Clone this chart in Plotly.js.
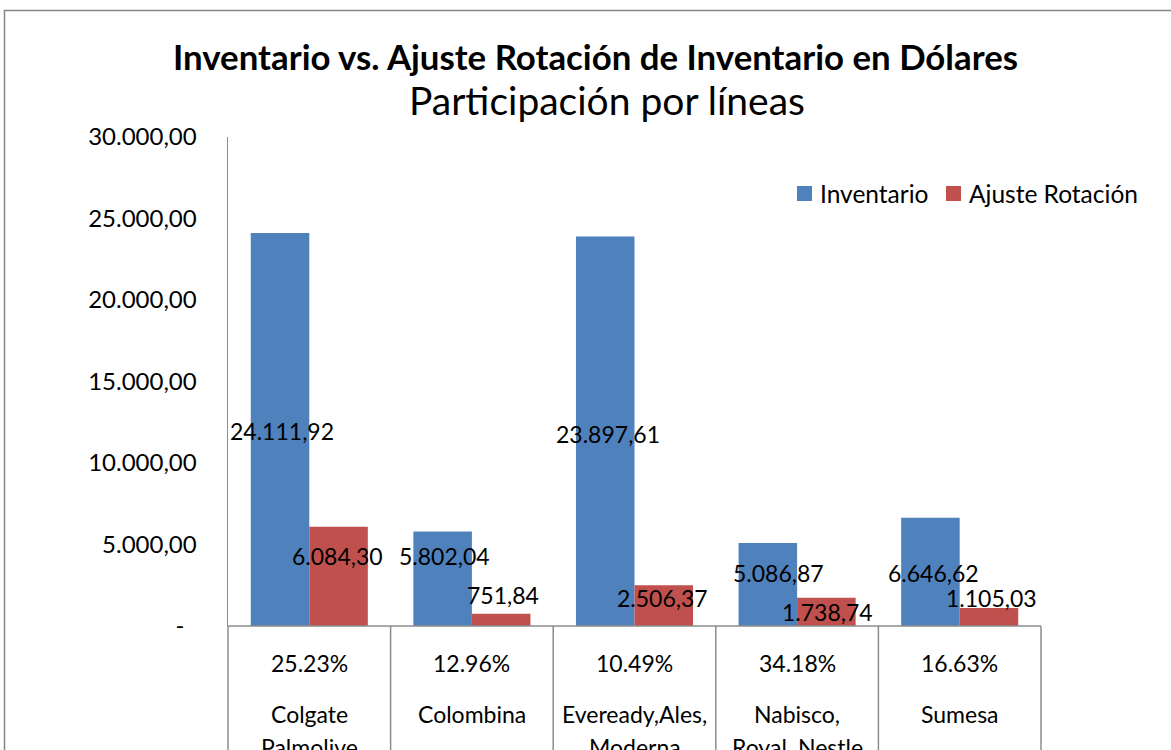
<!DOCTYPE html>
<html>
<head>
<meta charset="utf-8">
<script src="https://cdn.plot.ly/plotly-3.0.1.min.js"></script>
<style>html,body{margin:0;padding:0;background:#fff;overflow:hidden}#chart{width:1171px;height:750px}</style>
</head>
<body>
<div id="chart"></div>
<script>
// ---- data ----
var categories = ["Colgate Palmolive", "Colombina", "Eveready,Ales, Moderna", "Nabisco, Royal, Nestle", "Sumesa"];
var nameLine1 = ["Colgate", "Colombina", "Eveready,Ales,", "Nabisco,", "Sumesa"];
var nameLine2 = ["Palmolive", "", "Moderna", "Royal, Nestle", ""];
var inventario = [24111.92, 5802.04, 23897.61, 5086.87, 6646.62];
var ajuste = [6084.30, 751.84, 2506.37, 1738.74, 1105.03];
var participacion = ["25.23%", "12.96%", "10.49%", "34.18%", "16.63%"];
var yTicks = [0, 5000, 10000, 15000, 20000, 25000, 30000];

// ---- layout helpers ----
var W = 1171, H = 750;
var L = 228, R = 1041, T = 137, B = 626;
function px(x) { return (x - L) / (R - L); }
function py(y) { return (B - y) / (B - T); }
function fmt(v) {
  var s = v.toFixed(2).split(".");
  return s[0].replace(/\B(?=(\d{3})+(?!\d))/g, ".") + "," + s[1];
}
var FONT = "Lato, 'Open Sans', sans-serif";
var BLUE = "#4F81BD", RED = "#C0504D", LINE = "#8c8c8c";

// label nudges (pixels) to mimic the hand-placed labels in the original
var blueShiftY = [-2, 23, -3, 12, -1];
var blueShiftX = [2, 2, 2, 10, 3];
var redShiftY = [20, 25, 8, 0, 19];
var redShiftX = [-1, 2, -1, 1, 3];
var barOff = 29;

var traces = [
  {type: "bar", name: "Inventario", x: categories, y: inventario, marker: {color: BLUE}, hoverinfo: "none"},
  {type: "bar", name: "Ajuste Rotación", x: categories, y: ajuste, marker: {color: RED}, hoverinfo: "none"}
];

var annotations = [];
var shapes = [];
var labelFont = {family: FONT, size: 23, color: "#000"};

categories.forEach(function (c, i) {
  annotations.push({x: c, y: inventario[i] / 2, xref: "x", yref: "y", text: fmt(inventario[i]),
    showarrow: false, font: labelFont, xshift: -barOff + blueShiftX[i], yshift: blueShiftY[i]});
  annotations.push({x: c, y: ajuste[i] / 2, xref: "x", yref: "y", text: fmt(ajuste[i]),
    showarrow: false, font: labelFont, xshift: barOff + redShiftX[i], yshift: redShiftY[i]});
  annotations.push({x: c, y: py(663), xref: "x", yref: "paper", text: participacion[i],
    showarrow: false, font: labelFont, yanchor: "middle"});
  annotations.push({x: c, y: py(714), xref: "x", yref: "paper", text: nameLine1[i],
    showarrow: false, font: labelFont, yanchor: "middle"});
  if (nameLine2[i]) {
    annotations.push({x: c, y: py(747), xref: "x", yref: "paper", text: nameLine2[i],
      showarrow: false, font: labelFont, yanchor: "middle"});
  }
});

// titles
annotations.push({x: px(595), y: py(57), xref: "paper", yref: "paper", showarrow: false, yanchor: "middle",
  text: "<b>Inventario vs. Ajuste Rotación de Inventario en Dólares</b>", font: {family: FONT, size: 34.8, color: "#000"}});
annotations.push({x: px(607), y: py(100), xref: "paper", yref: "paper", showarrow: false, yanchor: "middle",
  text: "Participación por líneas", font: {family: FONT, size: 39, color: "#000"}});

// legend (manual)
shapes.push({type: "rect", xref: "paper", yref: "paper", x0: px(797), x1: px(812), y0: py(201), y1: py(186), fillcolor: BLUE, line: {width: 0}});
shapes.push({type: "rect", xref: "paper", yref: "paper", x0: px(946), x1: px(961), y0: py(201), y1: py(186), fillcolor: RED, line: {width: 0}});
annotations.push({x: px(818), y: py(193), xref: "paper", yref: "paper", xanchor: "left", yanchor: "middle", showarrow: false,
  text: "Inventario", font: {family: FONT, size: 24.5, color: "#000"}});
annotations.push({x: px(967), y: py(193), xref: "paper", yref: "paper", xanchor: "left", yanchor: "middle", showarrow: false,
  text: "Ajuste Rotación", font: {family: FONT, size: 24.5, color: "#000"}});

// category table lines
var lineStyle = {color: LINE, width: 1.5};
shapes.push({type: "line", xref: "paper", yref: "paper", x0: 0, x1: 1, y0: 0, y1: 0, line: lineStyle});
for (var k = 0; k <= categories.length; k++) {
  var xx = k / categories.length;
  shapes.push({type: "line", xref: "paper", yref: "paper", x0: xx, x1: xx, y0: 0, y1: py(760), line: lineStyle});
}
// outer chart border
shapes.push({type: "rect", xref: "paper", yref: "paper", x0: px(4.5), x1: px(1190), y0: py(780), y1: py(10.5),
  line: {color: "#868686", width: 1.5}, fillcolor: "rgba(0,0,0,0)"});

var layout = {
  width: W, height: H,
  margin: {l: L, r: W - R, t: T, b: H - B, pad: 0},
  paper_bgcolor: "#fff", plot_bgcolor: "#fff",
  showlegend: false,
  barmode: "group", bargap: 0.28, bargroupgap: 0,
  font: {family: FONT, color: "#000"},
  xaxis: {type: "category", range: [-0.5, 4.5], showticklabels: false, showgrid: false, zeroline: false, showline: false, ticks: "", fixedrange: true},
  yaxis: {range: [0, 30000], tickvals: yTicks,
    ticktext: yTicks.map(function (v) { return v === 0 ? "-\u00a0\u00a0" : fmt(v); }),
    showgrid: false, zeroline: false, showline: true, linecolor: LINE, linewidth: 1.5,
    ticks: "outside", ticklen: 25, tickcolor: "rgba(0,0,0,0)", tickfont: {family: FONT, size: 24, color: "#000"}, fixedrange: true},
  annotations: annotations,
  shapes: shapes
};

Plotly.newPlot("chart", traces, layout, {displayModeBar: false, staticPlot: true});
</script>
</body>
</html>
